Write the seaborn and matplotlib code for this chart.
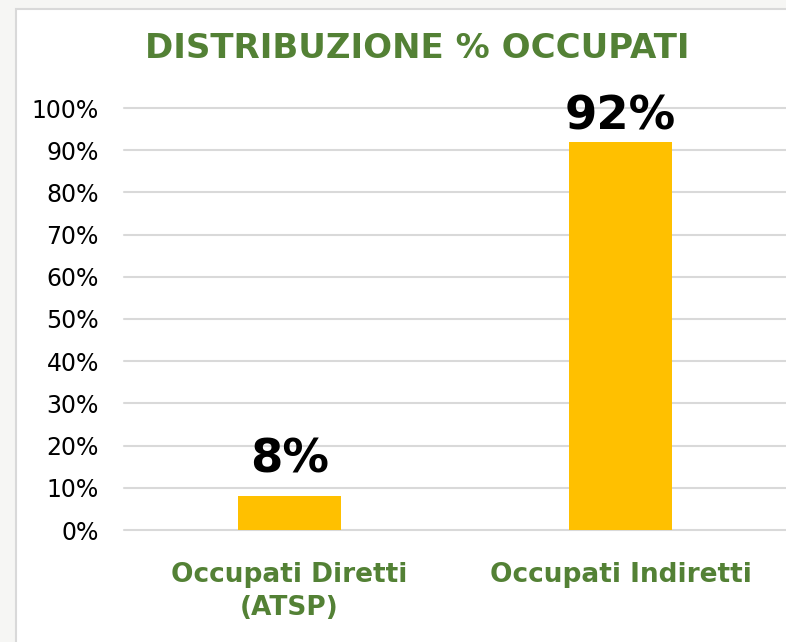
import numpy as np
import pandas as pd
import seaborn as sns
import matplotlib.pyplot as plt
from matplotlib.patches import Rectangle
from matplotlib.ticker import PercentFormatter

categories = ["Occupati Diretti\n(ATSP)", "Occupati Indiretti"]
values = [8, 92]
labels = ["8%", "92%"]

green = "#538135"
gold = "#FFC000"

sns.set_theme(style="white")
plt.rcParams['font.family'] = ['DejaVu Sans']

fig = plt.figure(figsize=(7.86, 6.42), dpi=100, facecolor="#F6F6F4")
# white chart panel with thin gray border
fig.patches.append(Rectangle((16 / 786, -0.01), 1.0, (642 - 9) / 642 + 0.01,
                             transform=fig.transFigure, facecolor="white",
                             edgecolor="#D9D9D9", linewidth=1.5, zorder=-5))

ax = fig.add_axes([124 / 786, (642 - 530) / 642, (786 - 124) / 786, (530 - 108) / 642])
ax.set_facecolor("none")
ax.set_zorder(2)

df = pd.DataFrame({"cat": categories, "val": values})
sns.barplot(data=df, x="cat", y="val", color=gold, width=0.314, saturation=1,
            linewidth=0, ax=ax, zorder=3)

ax.set_xlim(-0.5, 1.5)
ax.set_ylim(0, 100)
ax.set_yticks(np.arange(0, 101, 10))
ax.yaxis.set_major_formatter(PercentFormatter(decimals=0))
ax.grid(axis="y", color="#D9D9D9", linewidth=1.5, zorder=0)
ax.grid(axis="x", visible=False)
for gl in ax.get_ygridlines():
    gl.set_clip_on(False)
ax.set_axisbelow(True)
for s in ax.spines.values():
    s.set_visible(False)

ax.tick_params(axis="y", labelsize=17, pad=18, length=0, labelcolor="black")
ax.tick_params(axis="x", labelsize=19, pad=23, length=0)
for t in ax.get_xticklabels():
    t.set_color(green)
    t.set_fontweight("bold")
    t.set_linespacing(1.35)
ax.set_xlabel("")
ax.set_ylabel("")

# labels sit above the bar, but are kept inside the plot area like Excel does
for i, (v, lab) in enumerate(zip(values, labels)):
    ax.text(i, min(v + 5.7, 94.8), lab, ha="center", va="baseline", fontsize=33.5,
            fontweight="bold", color="black")

fig.text(417 / 786, 1 - 48 / 642, "DISTRIBUZIONE % OCCUPATI", ha="center", va="center",
         fontsize=24.5, fontweight="bold", color=green)

fig.savefig("out.png", dpi=100, facecolor=fig.get_facecolor())
